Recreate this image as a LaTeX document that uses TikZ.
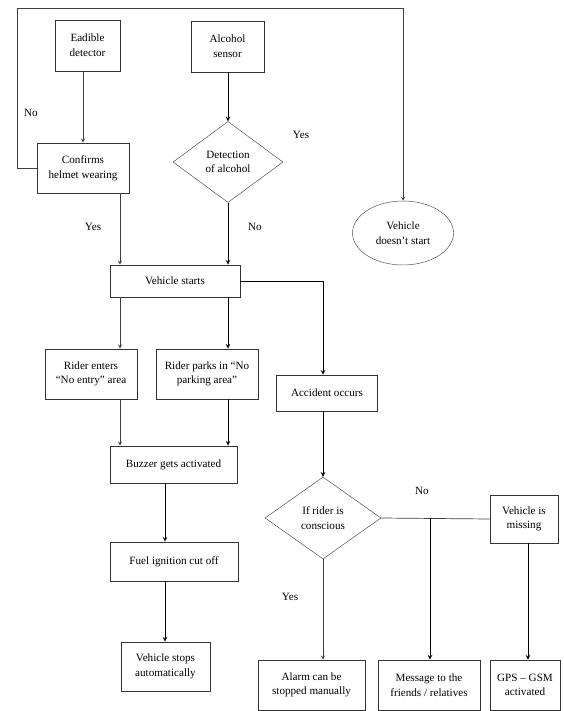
\documentclass[tikz,border=0pt]{standalone}
\usepackage{fontspec}
\setmainfont{Liberation Serif}
\usetikzlibrary{shapes.geometric,calc}
\newcommand{\px}{0.03cm}
\tikzset{
  box/.style={draw=black!80,semithick,rectangle,align=center,inner sep=0pt},
  decide/.style={draw=black!70,diamond,align=center,inner sep=0pt,aspect=1.4},
  endnode/.style={draw=black!70,ellipse,align=center,inner sep=0pt},
  line/.style={draw=black!75,semithick},
  flow/.style={draw=black,thick,-stealth},
  lflow/.style={draw=black!75,semithick,-stealth}
}
\begin{document}
\begin{tikzpicture}[x=\px,y=-\px,font=\fontsize{9.5}{12.5}\selectfont]
  \useasboundingbox (0,0) rectangle (563,711);
  % sensors
  \node[box,minimum width=65*\px,minimum height=51*\px] (eadible) at(87.5,45.5){Eadible\\detector};
  \node[box,minimum width=73*\px,minimum height=51*\px] (alcohol) at(227.5,46.5){Alcohol\\sensor};
  % checks
  \node[box,minimum width=92*\px,minimum height=50*\px] (confirm) at(83,168){Confirms\\helmet wearing};
  \node[decide,minimum width=110*\px,minimum height=81*\px] (detect) at(228,162){Detection\\of alcohol};
  \node[endnode,minimum width=101*\px,minimum height=64*\px] (nostart) at(403,233){Vehicle\\doesn't start};
  % start
  \node[box,minimum width=130*\px,minimum height=32*\px] (starts) at(175,281){Vehicle starts};
  % left branch
  \node[box,minimum width=92*\px,minimum height=50*\px] (enters) at(91,374){Rider enters\\``No entry'' area};
  \node[box,minimum width=102*\px,minimum height=50*\px] (parks) at(207,374){Rider parks in ``No\\parking area''};
  \node[box,minimum width=127*\px,minimum height=37*\px] (buzzer) at(173.5,464.5){Buzzer gets activated};
  \node[box,minimum width=128*\px,minimum height=39*\px] (fuel) at(174,561.5){Fuel ignition cut off};
  \node[box,minimum width=89*\px,minimum height=49*\px] (stops) at(165.5,666.5){Vehicle stops\\automatically};
  % right branch
  \node[box,minimum width=101*\px,minimum height=36*\px] (accident) at(327,393){Accident occurs};
  \node[decide,minimum width=116*\px,minimum height=82*\px] (rider) at(323,518){If rider is\\conscious};
  \node[box,minimum width=68*\px,minimum height=48*\px] (missing) at(524,519){Vehicle is\\missing};
  \node[box,minimum width=107*\px,minimum height=50*\px] (alarm) at(311.5,685){Alarm can be\\stopped manually};
  \node[box,minimum width=102*\px,minimum height=50*\px] (message) at(429,685){Message to the\\friends / relatives};
  \node[box,minimum width=70*\px,minimum height=50*\px] (gps) at(525,685){GPS -- GSM\\activated};
  % lanes
  \coordinate (laneO) at(83,0);
  \coordinate (laneA) at(120,0);
  \coordinate (laneB) at(228,0);
  \coordinate (laneC) at(165,0);
  \coordinate (laneD) at(323,0);
  \coordinate (laneE) at(430,0);
  \coordinate (laneF) at(528,0);
  \coordinate (loop) at(17,8);
  \coordinate (junc) at(430,518);
  % labels
  \node (no1) at(31,113){No};
  \node (yes1) at(301,135){Yes};
  \node (yes2) at(93,227){Yes};
  \node (no2) at(255,227){No};
  \node (no3) at(422,491){No};
  \node (yes3) at(290,597){Yes};
  % arrows top
  \draw[lflow] (eadible.south -| laneO) -- (confirm.north -| laneO);
  \draw[flow] (alcohol.south -| laneB) -- (detect.north);
  \draw[lflow] (confirm.west) -| (loop) -| (nostart.north);
  \draw[lflow] (confirm.south -| laneA) -- (starts.north -| laneA);
  \draw[flow] (detect.south) -- (starts.north -| laneB);
  % arrows left
  \draw[lflow] (starts.south -| laneA) -- (enters.north -| laneA);
  \draw[flow] (starts.south -| laneB) -- (parks.north -| laneB);
  \draw[lflow] (enters.south -| laneA) -- (buzzer.north -| laneA);
  \draw[flow] (parks.south -| laneB) -- (buzzer.north -| laneB);
  \draw[flow] (buzzer.south -| laneC) -- (fuel.north -| laneC);
  \draw[flow] (fuel.south -| laneC) -- (stops.north -| laneC);
  % arrows right
  \draw[flow] (starts.east) -| (accident.north -| laneD);
  \draw[flow] (accident.south -| laneD) -- (rider.north);
  \draw[line] (rider.east) -- (missing.west);
  \draw[lflow] (rider.south) -- (alarm.north -| laneD);
  \draw[flow] (junc) -- (message.north -| laneE);
  \draw[flow] (missing.south -| laneF) -- (gps.north -| laneF);
\end{tikzpicture}
\end{document}
